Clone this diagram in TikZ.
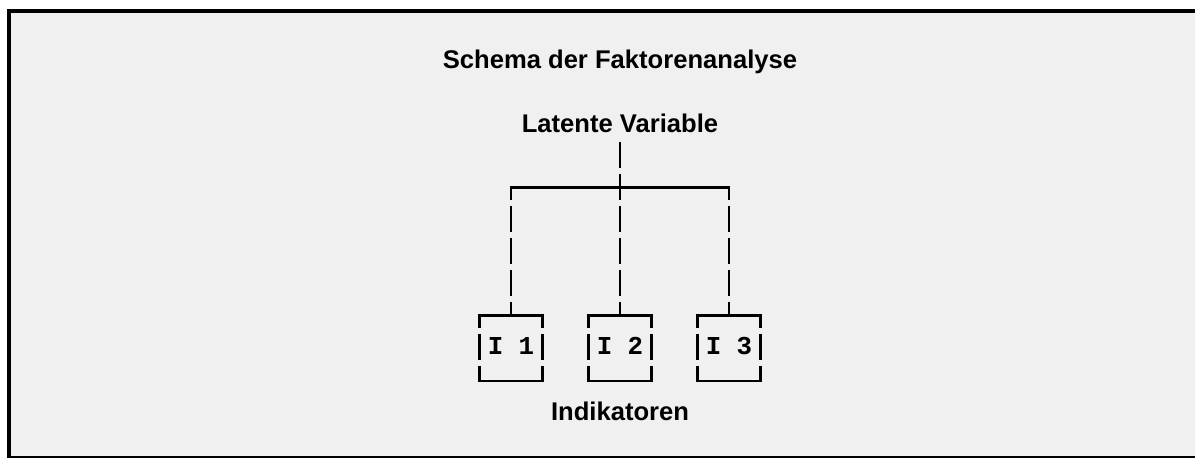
\documentclass[tikz,border=0pt]{standalone}
\usepackage{fontspec}
\setmainfont{Liberation Sans}
\newfontfamily\artmono{Liberation Mono}
\definecolor{bggray}{HTML}{F0F0F0}
\tikzset{
  lbl/.style={font=\fontsize{25.6}{30}\selectfont\bfseries, inner sep=0pt, anchor=base},
  ibox/.style={minimum width=63pt, minimum height=65.3pt, inner sep=0pt,
    text height=17pt, text depth=5.6pt,
    font=\artmono\fontsize{25.8}{30}\selectfont\bfseries},
  hline/.style={line width=2.4pt, line cap=rect},
  vline/.style={line width=2.5pt, dash pattern=on 26.5pt off 5.5pt},
  vlineh/.style={vline, dash phase=13.5pt}
}
\begin{document}
\begin{tikzpicture}[x=1pt,y=-1pt]
\useasboundingbox (0,0) rectangle (1195,458);
\fill[bggray] (7,9) rectangle (1195,458);
\fill[black] (7,9) rectangle (11,458);
\fill[black] (7,9) rectangle (1195,13);
\fill[black] (7,455.7) rectangle (1195,458);

\node[lbl] (title) at (620,68) {Schema der Faktorenanalyse};
\node[lbl] (lat) at (620,132) {Latente Variable};
\node[lbl] (ind) at (620,420) {Indikatoren};

\node[ibox] (i1) at (511,348.3) {I 1};
\node[ibox] (i2) at (620,348.3) {I 2};
\node[ibox] (i3) at (729,348.3) {I 3};

\coordinate (j) at (620,187.3);

% main vertical from latent variable to middle indicator
\draw[vline] ([yshift=-9.7pt]lat.base) -- (i2.north);
% horizontal distribution line
\draw[hline] (i1.north |- j) -- (i3.north |- j);
% side verticals
\draw[vlineh] (i1.north |- j) -- (i1.north);
\draw[vlineh] (i3.north |- j) -- (i3.north);

% indicator boxes
\foreach \b in {i1,i2,i3}{
  \draw[hline] (\b.north west) -- (\b.north east);
  \draw[hline] (\b.south west) -- (\b.south east);
  \draw[vlineh] (\b.north west) -- (\b.south west);
  \draw[vlineh] (\b.north east) -- (\b.south east);
}
\end{tikzpicture}
\end{document}
